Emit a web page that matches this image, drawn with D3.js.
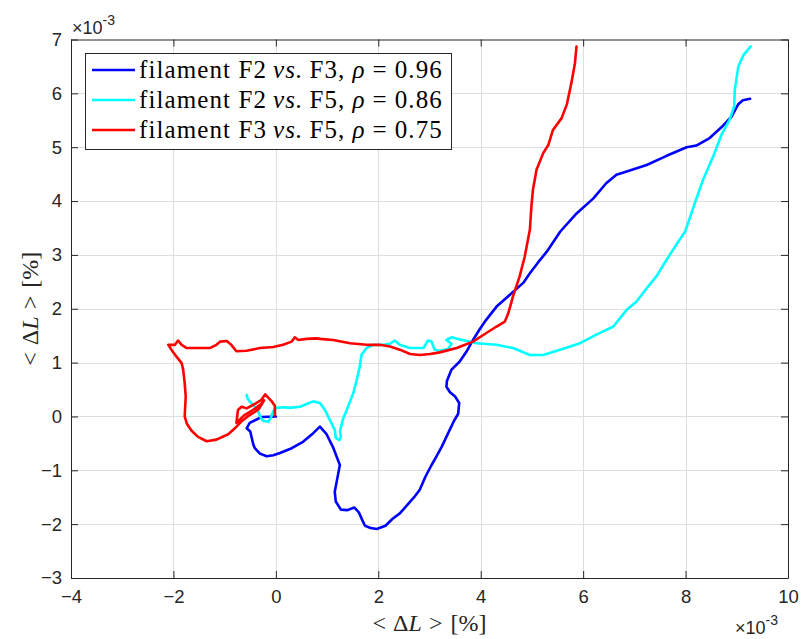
<!DOCTYPE html>
<html>
<head>
<meta charset="utf-8">
<script src="https://cdn.jsdelivr.net/npm/d3@7"></script>
<style>
  html, body { margin: 0; padding: 0; background: #fff; }
  svg { display: block; }
</style>
</head>
<body>
<div id="chart"></div>
<script>
// Mean elongation of filament pairs, both axes in units of 1e-3 %.
const xTicks = [-4, -2, 0, 2, 4, 6, 8, 10];
const yTicks = [-3, -2, -1, 0, 1, 2, 3, 4, 5, 6, 7];

// filament F2 vs. F3
const f23X = [0.00,-0.28,-0.51,-0.57,-0.50,-0.47,-0.44,-0.41,-0.31,-0.18,-0.05,0.08,0.31,0.53,0.73,0.86,0.99,1.12,1.25,1.20,1.15,1.17,1.27,1.40,1.53,1.62,1.69,1.74,1.85,1.97,2.14,2.28,2.42,2.58,2.70,2.81,2.92,3.03,3.12,3.24,3.36,3.48,3.56,3.58,3.50,3.40,3.33,3.34,3.43,3.59,3.72,3.85,3.98,4.08,4.31,4.57,4.83,4.96,5.12,5.29,5.55,5.85,6.20,6.45,6.65,6.85,7.24,7.63,8.02,8.21,8.47,8.70,8.90,9.03,9.12,9.26];
const f23Y = [0.00,-0.01,-0.12,-0.22,-0.28,-0.40,-0.52,-0.59,-0.69,-0.74,-0.72,-0.68,-0.59,-0.47,-0.31,-0.19,-0.33,-0.58,-0.90,-1.15,-1.40,-1.58,-1.73,-1.74,-1.69,-1.78,-1.93,-2.03,-2.07,-2.09,-2.03,-1.90,-1.80,-1.63,-1.50,-1.36,-1.12,-0.92,-0.77,-0.56,-0.32,-0.08,0.05,0.25,0.37,0.45,0.55,0.66,0.87,1.02,1.20,1.42,1.62,1.76,2.04,2.26,2.48,2.66,2.86,3.06,3.43,3.75,4.05,4.33,4.49,4.55,4.67,4.84,5.00,5.03,5.17,5.37,5.57,5.80,5.87,5.90];

// filament F2 vs. F5
const f25X = [-0.57,-0.55,-0.51,-0.44,-0.38,-0.33,-0.31,-0.25,-0.15,-0.10,-0.05,0.01,0.15,0.27,0.47,0.60,0.73,0.86,0.96,1.05,1.15,1.17,1.24,1.27,1.25,1.31,1.45,1.51,1.58,1.64,1.67,1.77,1.90,2.10,2.23,2.32,2.42,2.62,2.88,2.97,3.04,3.10,3.20,3.36,3.43,3.33,3.43,3.56,3.69,3.92,4.31,4.63,4.96,5.22,5.55,5.94,6.26,6.59,6.85,7.04,7.24,7.43,7.63,7.82,7.99,8.07,8.18,8.34,8.54,8.70,8.86,8.95,8.96,9.03,9.13,9.27];
const f25Y = [0.40,0.33,0.28,0.21,0.15,0.06,0.00,-0.08,-0.10,-0.03,0.10,0.16,0.17,0.16,0.18,0.23,0.28,0.25,0.12,-0.06,-0.25,-0.40,-0.44,-0.37,-0.28,-0.05,0.28,0.43,0.68,0.93,1.14,1.27,1.33,1.33,1.35,1.41,1.33,1.27,1.27,1.41,1.39,1.24,1.22,1.25,1.35,1.42,1.47,1.44,1.41,1.36,1.33,1.27,1.14,1.14,1.24,1.36,1.52,1.67,1.98,2.13,2.38,2.60,2.91,3.19,3.43,3.65,3.96,4.39,4.83,5.23,5.51,5.76,6.06,6.50,6.71,6.87];

// filament F3 vs. F5
const f35X = [-0.02,-0.02,-0.08,-0.21,-0.28,-0.40,-0.57,-0.67,-0.74,-0.77,-0.62,-0.45,-0.30,-0.23,-0.33,-0.45,-0.55,-0.68,-0.80,-0.93,-1.16,-1.35,-1.52,-1.65,-1.74,-1.78,-1.76,-1.78,-1.81,-1.84,-1.94,-2.04,-2.10,-1.97,-1.91,-1.84,-1.74,-1.55,-1.29,-1.16,-1.09,-0.96,-0.87,-0.77,-0.57,-0.31,-0.05,0.14,0.31,0.37,0.44,0.60,0.79,0.86,1.12,1.45,1.77,2.03,2.23,2.42,2.62,2.81,3.01,3.20,3.53,3.85,4.11,4.31,4.47,4.54,4.63,4.76,4.86,4.96,4.99,5.02,5.09,5.22,5.32,5.41,5.58,5.68,5.77,5.84,5.87];
const f35Y = [0.02,0.20,0.28,0.41,0.31,0.24,0.15,0.18,0.12,-0.12,0.02,0.12,0.22,0.30,0.14,0.06,0.00,-0.10,-0.22,-0.33,-0.43,-0.46,-0.38,-0.26,-0.13,0.00,0.37,0.62,0.87,0.99,1.11,1.24,1.33,1.33,1.41,1.33,1.27,1.27,1.27,1.33,1.39,1.40,1.33,1.21,1.22,1.27,1.29,1.33,1.39,1.47,1.42,1.44,1.45,1.44,1.42,1.36,1.33,1.33,1.30,1.24,1.16,1.14,1.16,1.19,1.27,1.39,1.55,1.67,1.76,1.92,2.23,2.60,2.97,3.47,3.90,4.21,4.58,4.89,5.04,5.32,5.54,5.79,6.19,6.56,6.87];

const seriesColors = ["#0000ff", "#00ffff", "#ff0000"];
const pairNames = ["F2", "F3", "F2", "F5", "F3", "F5"];
const rhoValues = ["0.96", "0.86", "0.75"];

const W = 801, H = 639;
const margin = { top: 39.5, right: 13, bottom: 61, left: 71 };
const axisColor = "#262626";
const tickFont = "'Liberation Sans', Arial, Helvetica, sans-serif";
const texFont = "'Liberation Serif', 'Times New Roman', serif";

const svg = d3.select("#chart").append("svg")
  .attr("width", W).attr("height", H);

const x = d3.scaleLinear().domain([-4, 10]).range([margin.left, W - margin.right]);
const y = d3.scaleLinear().domain([-3, 7]).range([H - margin.bottom, margin.top]);

// grid
const grid = svg.append("g").attr("stroke", "#dedede").attr("stroke-width", 1);
grid.selectAll("line.gx").data(xTicks.slice(1, -1)).join("line")
  .attr("x1", d => Math.round(x(d)) + 0.5).attr("x2", d => Math.round(x(d)) + 0.5)
  .attr("y1", y(-3)).attr("y2", y(7));
grid.selectAll("line.gy").data(yTicks.slice(1, -1)).join("line")
  .attr("y1", d => Math.round(y(d)) + 0.5).attr("y2", d => Math.round(y(d)) + 0.5)
  .attr("x1", x(-4)).attr("x2", x(10));

// curves
const series = [
  { xs: f23X, ys: f23Y },
  { xs: f25X, ys: f25Y },
  { xs: f35X, ys: f35Y }
];
const line = d3.line().x(d => x(d[0])).y(d => y(d[1])).curve(d3.curveLinear);
const plot = svg.append("g");
series.forEach((s, i) => {
  plot.append("path")
    .datum(s.xs.map((v, k) => [v, s.ys[k]]))
    .attr("d", line)
    .attr("fill", "none")
    .attr("stroke", seriesColors[i])
    .attr("stroke-width", 2.6)
    .attr("stroke-linejoin", "round")
    .attr("stroke-linecap", "round");
});

// axes (ticks point inward)
const tickLen = 7;
function styleAxis(g) {
  g.select(".domain").attr("stroke", axisColor).attr("stroke-width", 1);
  g.selectAll(".tick line").attr("stroke", axisColor);
  g.selectAll(".tick text").attr("fill", axisColor)
    .attr("font-family", tickFont).attr("font-size", 18.5);
}
svg.append("g").attr("transform", `translate(0,${y(-3)})`)
  .call(d3.axisBottom(x).tickValues(xTicks).tickFormat(d3.format("d"))
    .tickSizeInner(-tickLen).tickSizeOuter(0).tickPadding(12))
  .call(styleAxis);
svg.append("g").attr("transform", `translate(0,${y(7)})`)
  .call(d3.axisTop(x).tickValues(xTicks).tickFormat("")
    .tickSizeInner(-tickLen).tickSizeOuter(0))
  .call(styleAxis);
svg.append("g").attr("transform", `translate(${x(-4)},0)`)
  .call(d3.axisLeft(y).tickValues(yTicks).tickFormat(d3.format("d"))
    .tickSizeInner(-tickLen).tickSizeOuter(0).tickPadding(9))
  .call(styleAxis);
svg.append("g").attr("transform", `translate(${x(10)},0)`)
  .call(d3.axisRight(y).tickValues(yTicks).tickFormat("")
    .tickSizeInner(-tickLen).tickSizeOuter(0))
  .call(styleAxis);

// exponent markers
function exponent(xPos, yPos) {
  const t = svg.append("text").attr("x", xPos).attr("y", yPos)
    .attr("font-family", tickFont).attr("font-size", 18).attr("fill", axisColor);
  t.append("tspan").text("\u00d710");
  t.append("tspan").attr("dy", -9).attr("font-size", 14).text("-3");
}
exponent(72, 34);
exponent(735, 634);

// axis titles
function deltaLabel(sel) {
  sel.attr("font-family", texFont).attr("font-size", 24).attr("fill", axisColor);
  sel.append("tspan").text("<");
  sel.append("tspan").attr("dx", 7).text("\u0394");
  sel.append("tspan").attr("font-style", "italic").text("L");
  sel.append("tspan").attr("dx", 7).text(">");
  sel.append("tspan").attr("dx", 8).text("[%]");
}
svg.append("text")
  .attr("x", (x(-4) + x(10)) / 2).attr("y", 631)
  .attr("text-anchor", "middle")
  .call(deltaLabel);
svg.append("text")
  .attr("transform", `translate(38,${(y(-3) + y(7)) / 2}) rotate(-90)`)
  .attr("text-anchor", "middle")
  .call(deltaLabel);

// legend
const legend = svg.append("g");
legend.append("rect")
  .attr("x", 85.5).attr("y", 53.5).attr("width", 366).attr("height", 96)
  .attr("fill", "#fff").attr("stroke", axisColor).attr("stroke-width", 1);
rhoValues.forEach((rho, i) => {
  const cy = 70 + i * 30;
  legend.append("line")
    .attr("x1", 92).attr("x2", 135).attr("y1", cy).attr("y2", cy)
    .attr("stroke", seriesColors[i]).attr("stroke-width", 2.6);
  const t = legend.append("text").attr("x", 139).attr("y", cy + 8)
    .attr("font-family", texFont).attr("font-size", 25).attr("fill", "#000")
    .attr("letter-spacing", 1.1);
  t.append("tspan").text(`filament ${pairNames[2 * i]}`);
  t.append("tspan").attr("dx", 6).attr("font-style", "italic").text("vs.");
  t.append("tspan").attr("dx", 6).text(`${pairNames[2 * i + 1]},`);
  t.append("tspan").attr("dx", 7).attr("font-style", "italic").text("\u03c1");
  t.append("tspan").attr("dx", 7).text("=");
  t.append("tspan").attr("dx", 7).text(rho);
});
</script>
</body>
</html>
